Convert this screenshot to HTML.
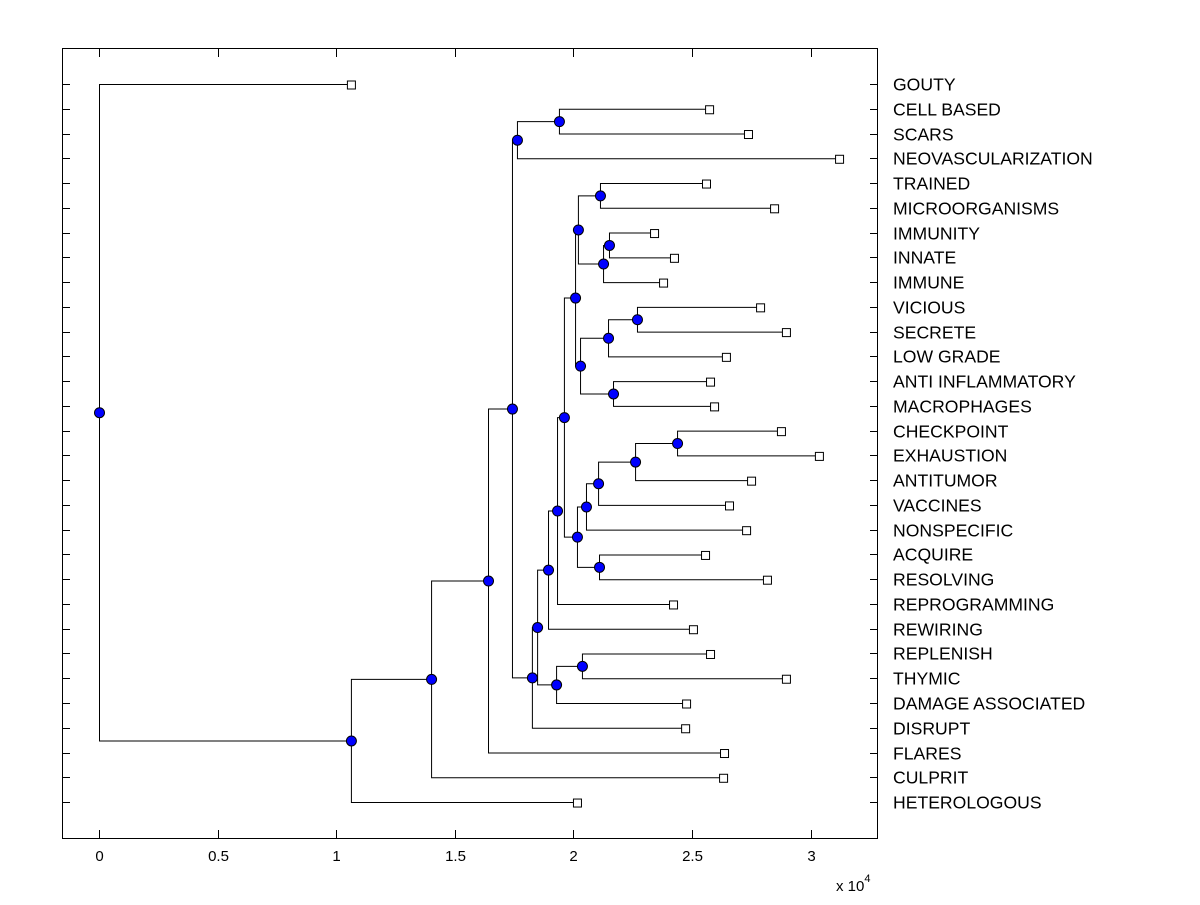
<!DOCTYPE html>
<html><head><meta charset="utf-8"><style>
body{margin:0;background:#fff;}
svg text{font-family:"Liberation Sans",Arial,sans-serif;}
</style></head><body>
<svg id="chart" width="1200" height="900" xmlns="http://www.w3.org/2000/svg">
<rect x="0" y="0" width="1200" height="900" fill="#fff"/>
<rect x="62.5" y="48.5" width="815" height="790" fill="#fff" stroke="#000" stroke-width="1"/>
<g id="ticks"></g>
<g id="tree"></g>
<g id="marks"></g>
<g id="labels"></g>
<text x="836" y="891" font-size="15">x 10<tspan dy="-9" font-size="11">4</tspan></text>
</svg>
<script>
const leafLabels = ["GOUTY","CELL BASED","SCARS","NEOVASCULARIZATION","TRAINED","MICROORGANISMS","IMMUNITY","INNATE","IMMUNE","VICIOUS","SECRETE","LOW GRADE","ANTI INFLAMMATORY","MACROPHAGES","CHECKPOINT","EXHAUSTION","ANTITUMOR","VACCINES","NONSPECIFIC","ACQUIRE","RESOLVING","REPROGRAMMING","REWIRING","REPLENISH","THYMIC","DAMAGE ASSOCIATED","DISRUPT","FLARES","CULPRIT","HETEROLOGOUS"];
const leafHeights = [1.062,2.572,2.736,3.120,2.559,2.846,2.340,2.424,2.378,2.787,2.896,2.643,2.576,2.593,2.875,3.035,2.749,2.656,2.728,2.555,2.816,2.420,2.504,2.576,2.896,2.475,2.471,2.635,2.631,2.015];
// internal nodes: [name, height (x1e4), childA, childB]
const nodeNames = ["root","A","B","C","D","E","H","G","J","L","M","K","N","I","O","Q","S","T","U","R","V","X","W","P","Y","AA","BB","CC","Z"];
const nodeHeights = [0,1.062,1.400,1.640,1.741,1.762,1.939,1.825,1.847,1.927,2.036,1.893,1.931,1.960,2.007,2.019,2.112,2.125,2.150,2.028,2.146,2.268,2.167,2.015,2.053,2.104,2.260,2.437,2.108];
const nodeChildren = [["GOUTY","A"],["B","HETEROLOGOUS"],["C","CULPRIT"],["D","FLARES"],["E","G"],["H","NEOVASCULARIZATION"],["CELL BASED","SCARS"],["J","DISRUPT"],["K","L"],["M","DAMAGE ASSOCIATED"],["REPLENISH","THYMIC"],["N","REWIRING"],["I","REPROGRAMMING"],["O","P"],["Q","R"],["S","T"],["TRAINED","MICROORGANISMS"],["U","IMMUNE"],["IMMUNITY","INNATE"],["V","W"],["X","LOW GRADE"],["VICIOUS","SECRETE"],["ANTI INFLAMMATORY","MACROPHAGES"],["Y","Z"],["AA","NONSPECIFIC"],["BB","VACCINES"],["CC","ANTITUMOR"],["CHECKPOINT","EXHAUSTION"],["ACQUIRE","RESOLVING"]];
const xTicks = [0,0.5,1,1.5,2,2.5,3];

const NS="http://www.w3.org/2000/svg";
const xS = v => 99 + v*237.2;
const yS = i => 84 + i*24.76;
function mk(tag, attrs, parent){const e=document.createElementNS(NS,tag);for(const k in attrs)e.setAttribute(k,attrs[k]);document.getElementById(parent).appendChild(e);return e;}

xTicks.forEach(t=>{
  const x=Math.round(xS(t))+0.5;
  mk('line',{x1:x,x2:x,y1:838,y2:830,stroke:'#000'},'ticks');
  mk('line',{x1:x,x2:x,y1:49,y2:57,stroke:'#000'},'ticks');
  const tx=mk('text',{x:x,y:861,'font-size':15,'text-anchor':'middle'},'ticks');
  tx.textContent=String(t);
  
  
});
leafLabels.forEach((l,i)=>{
  const y=Math.round(yS(i))+0.5;
  mk('line',{x1:62,x2:70,y1:y,y2:y,stroke:'#000'},'ticks');
  mk('line',{x1:870,x2:878,y1:y,y2:y,stroke:'#000'},'ticks');
  const tx=mk('text',{x:893,y:y+6,'font-size':17.6},'labels');
  tx.textContent=l;
  
  
});

const pos={};
leafLabels.forEach((l,i)=>{pos[l]={x:xS(leafHeights[i]),y:yS(i),leaf:true};});
function getPos(n){
  if(pos[n])return pos[n];
  const k=nodeNames.indexOf(n);
  const a=getPos(nodeChildren[k][0]), b=getPos(nodeChildren[k][1]);
  pos[n]={x:xS(nodeHeights[k]),y:(a.y+b.y)/2,leaf:false};
  return pos[n];
}
nodeNames.forEach(n=>{
  const p=getPos(n);
  const k=nodeNames.indexOf(n);
  const a=getPos(nodeChildren[k][0]), b=getPos(nodeChildren[k][1]);
  const ln=mk('path',{d:`M${a.x},${a.y+0.5}H${p.x+0.5}V${b.y+0.5}H${b.x}`,fill:'none',stroke:'#000','stroke-width':1},'tree');
  
  
});
nodeNames.forEach(n=>{
  const p=pos[n];
  const c=mk('circle',{cx:p.x+0.5,cy:p.y+0.5,r:5,fill:'#0000ff',stroke:'#000','stroke-width':1},'marks');
  
  
});
leafLabels.forEach(l=>{
  const p=pos[l];
  const r=mk('rect',{x:p.x-3.5,y:p.y-3,width:8,height:8,fill:'#fff',stroke:'#000','stroke-width':1},'marks');
  
  
});
</script>
</body></html>
